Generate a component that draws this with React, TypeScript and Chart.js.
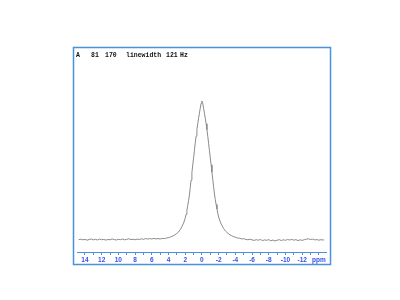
import React, { useEffect, useRef } from "react";
import { Chart, registerables } from "chart.js";

Chart.register(...registerables);

// Chemical shift (ppm) and signal intensity (baseline = 0)
const ppm: number[] = [
  14.75, 14.5, 14.25, 14.0, 13.75, 13.5, 13.25, 13.0, 12.75, 12.5, 12.25, 12.0,
  11.75, 11.5, 11.25, 11.0, 10.75, 10.5, 10.25, 10.0, 9.75, 9.5, 9.25, 9.0,
  8.75, 8.5, 8.25, 8.0, 7.75, 7.5, 7.25, 7.0, 6.75, 6.5, 6.25, 6.0, 5.75, 5.5,
  5.25, 5.0, 4.75, 4.5, 4.25, 4.0, 3.75, 3.5, 3.25, 3.0, 2.8, 2.6, 2.4, 2.2,
  2.0, 1.9, 1.8, 1.7, 1.6, 1.5, 1.4, 1.3, 1.2, 1.1, 1.0, 0.9, 0.8, 0.7, 0.6,
  0.5, 0.4, 0.3, 0.2, 0.1, 0.0, -0.1, -0.2, -0.3, -0.4, -0.5, -0.6, -0.7,
  -0.8, -0.9, -1.0, -1.1, -1.2, -1.3, -1.4, -1.5, -1.6, -1.7, -1.8, -1.9,
  -2.0, -2.2, -2.4, -2.6, -2.8, -3.0, -3.25, -3.5, -3.75, -4.0, -4.25, -4.5,
  -4.75, -5.0, -5.25, -5.5, -5.75, -6.0, -6.25, -6.5, -6.75, -7.0, -7.25,
  -7.5, -7.75, -8.0, -8.25, -8.5, -8.75, -9.0, -9.25, -9.5, -9.75, -10.0,
  -10.25, -10.5, -10.75, -11.0, -11.25, -11.5, -11.75, -12.0, -12.25, -12.5,
  -12.75, -13.0, -13.25, -13.5, -13.75, -14.0, -14.25, -14.5, -14.6,
];

const intensity: number[] = [
  0.3, 0.8, 0.2, 0.6, -0.2, 0.5, 1.0, 0.1, 0.7, 0.0, 0.9, 0.3,
  0.6, -0.1, 0.5, 0.2, 1.1, 0.4, 0.0, 0.7, 0.3, 0.9, 0.2, 0.6,
  1.3, 0.4, 0.8, 0.2, 0.9, 0.5, 1.2, 0.6, 1.5, 0.9, 1.4, 1.0, 1.6, 1.1,
  1.4, 1.0, 1.6, 1.4, 2.0, 2.3, 3.0, 4.0, 5.0, 6.6, 8.0, 10.2, 13.2, 16.8,
  21.8, 25.6, 29.8, 34.3, 39.3, 44.8, 52.3, 59.8, 67.3, 74.8, 81.8, 89.3,
  96.8, 103.8, 110.3, 116.3, 121.8, 126.8, 131.8, 136.6, 139.0, 136.6, 131.8,
  126.8, 121.8, 116.3, 110.3, 103.8, 96.8, 89.5, 82.2, 75.2, 67.8, 60.5,
  53.2, 46.0, 40.5, 35.5, 31.0, 26.8, 23.0, 18.0, 14.4, 11.4, 9.2, 7.6, 5.8,
  4.6, 3.4, 2.8, 2.0, 1.8, 1.1, 1.3, 0.6, 0.2, 0.8, 0.1, -0.4, 0.3, -0.2,
  0.5, -0.6, 0.1, -0.3, 0.4, -0.8, 0.0, -1.0, -0.2, 0.3, -0.5, 0.2, -0.3,
  0.5, 0.0, 0.6, -0.2, 0.4, -0.6, 0.2, -0.4, 0.3, 0.8, 1.2, 0.5, 0.9, 0.1,
  0.4, -0.2, 0.3, 0.0, 0.2,
];

const majorTicks: number[] = [14, 12, 10, 8, 6, 4, 2, 0, -2, -4, -6, -8, -10, -12];
const unitTick = -14;
const unitLabel = "ppm";

const headerTokens: string[] = ["A", "81", "170", "linewidth", "121", "Hz"];
const headerX: number[] = [76, 91, 105, 126, 166, 180];

const FRAME_BLUE = "#4a90dc";
const LABEL_BLUE = "#3352e6";
const LINE_GRAY = "#8a8a8a";

export default function App() {
  const ref = useRef<HTMLCanvasElement | null>(null);

  useEffect(() => {
    if (!ref.current) return;
    const framePlugin = {
      id: "frameAndHeader",
      afterDraw(chart: any) {
        const ctx = chart.ctx;
        ctx.save();
        ctx.strokeStyle = FRAME_BLUE;
        ctx.lineWidth = 1.5;
        ctx.strokeRect(73.5, 47.5, 257, 217);
        ctx.fillStyle = "#111";
        ctx.font = "bold 6.5px 'Liberation Mono', monospace";
        ctx.textBaseline = "alphabetic";
        headerTokens.forEach((t, i) => ctx.fillText(t, headerX[i], 57));
        ctx.restore();
      },
    };

    const chart = new Chart(ref.current, {
      type: "line",
      data: {
        datasets: [
          {
            data: ppm.map((x, i) => ({ x, y: intensity[i] })),
            borderColor: LINE_GRAY,
            borderWidth: 1,
            pointRadius: 0,
            tension: 0,
            fill: false,
          },
        ],
      },
      options: {
        animation: false,
        responsive: false,
        events: [],
        layout: { padding: { left: 77, right: 74, top: 60, bottom: 34 } },
        plugins: { legend: { display: false }, tooltip: { enabled: false } },
        scales: {
          x: {
            type: "linear",
            reverse: true,
            min: -14.85,
            max: 14.95,
            border: { color: FRAME_BLUE, width: 1 },
            grid: {
              drawOnChartArea: false,
              drawTicks: true,
              tickLength: 3,
              color: FRAME_BLUE,
              tickColor: FRAME_BLUE,
            },
            ticks: {
              stepSize: 1,
              includeBounds: false,
              autoSkip: false,
              maxRotation: 0,
              minRotation: 0,
              padding: 1,
              color: LABEL_BLUE,
              font: { size: 6.5, weight: "bold", family: "'Liberation Sans', Arial, sans-serif" },
              callback: (v: any) => {
                const n = Number(v);
                if (n === unitTick) return unitLabel;
                return majorTicks.includes(n) ? String(n) : "";
              },
            },
            afterFit: (s: any) => {
              s.height = 14;
            },
          },
          y: { display: false, min: -12, max: 180 },
        },
      },
      plugins: [framePlugin],
    } as any);
    return () => chart.destroy();
  }, []);

  return (
    <div style={{ position: "fixed", left: 0, top: 0, width: 400, height: 300, background: "#fff" }}>
      <canvas ref={ref} width={400} height={300} />
    </div>
  );
}
